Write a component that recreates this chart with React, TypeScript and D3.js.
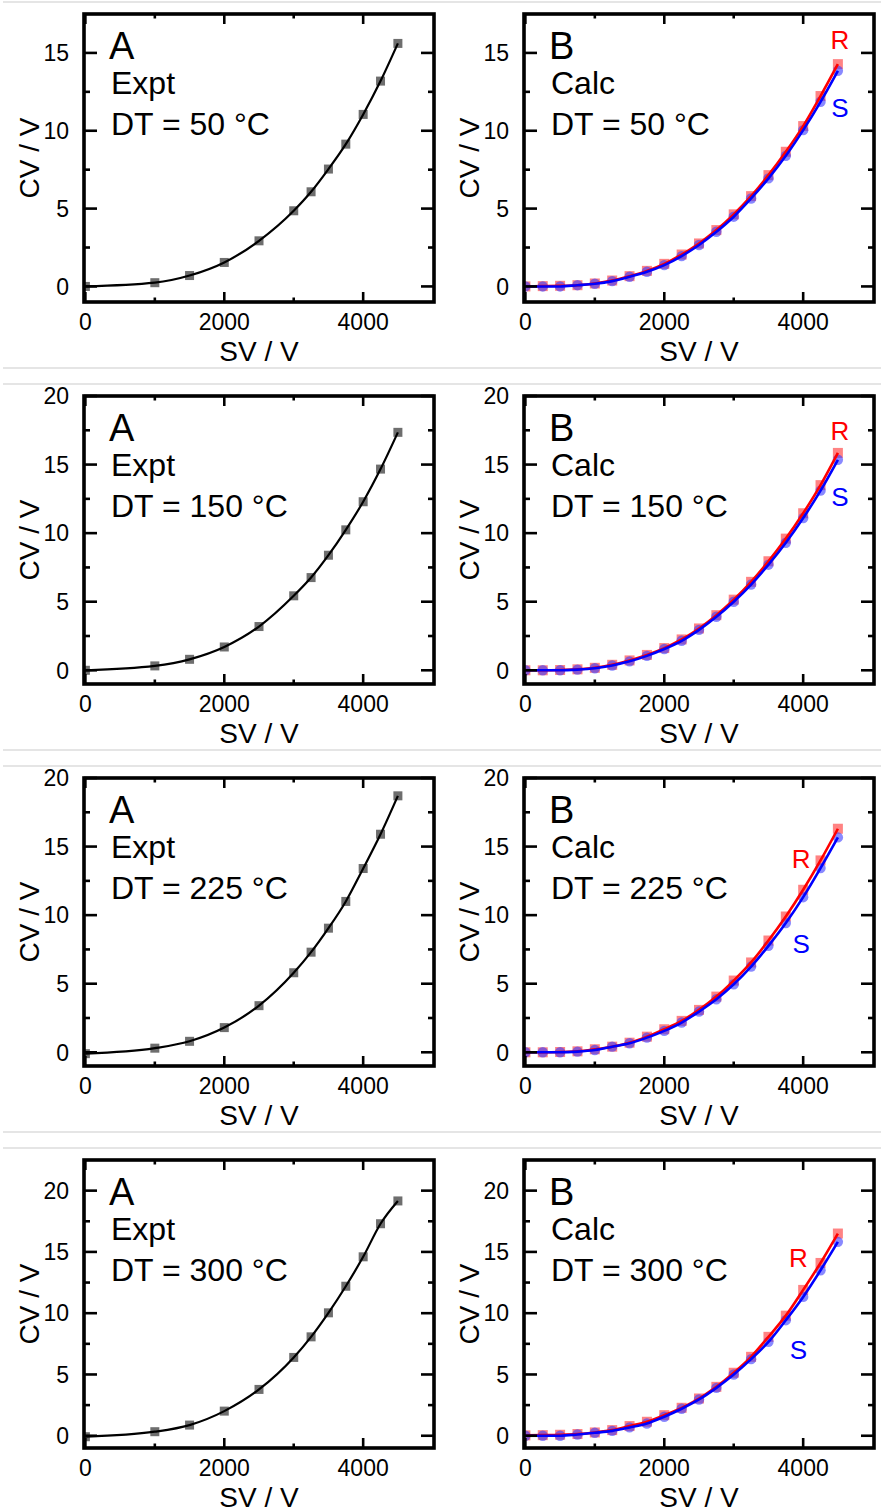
import * as d3 from 'd3';

// SV steps (V)
const SV_EXPT = [0, 1000, 1500, 2000, 2500, 3000, 3250, 3500, 3750, 4000, 4250, 4500];
const SV_CALC = [0, 250, 500, 750, 1000, 1250, 1500, 1750, 2000, 2250, 2500, 2750, 3000, 3250, 3500, 3750, 4000, 4250, 4500];

const DT = [50, 150, 225, 300];
const Y_TOP = [17.5, 20, 20, 22.5];

// experimental CV (V)
const EXPT_50 = [0, 0.24, 0.7, 1.54, 2.93, 4.86, 6.08, 7.54, 9.14, 11.05, 13.19, 15.61];
const EXPT_150 = [0, 0.32, 0.8, 1.7, 3.19, 5.43, 6.76, 8.39, 10.24, 12.29, 14.67, 17.35];
const EXPT_225 = [-0.1, 0.3, 0.8, 1.8, 3.4, 5.8, 7.3, 9.05, 11.0, 13.4, 15.9, 18.7];
const EXPT_300 = [-0.08, 0.33, 0.87, 2.01, 3.78, 6.39, 8.07, 10.03, 12.2, 14.6, 17.3, 19.16];

// calculated CV, R and S enantiomers
const R_50 = [0, 0.02, 0.04, 0.08, 0.19, 0.38, 0.66, 1.0, 1.45, 2.05, 2.76, 3.62, 4.63, 5.8, 7.15, 8.65, 10.3, 12.23, 14.28];
const S_50 = [0, 0, 0, 0.08, 0.17, 0.34, 0.62, 0.94, 1.37, 1.95, 2.66, 3.51, 4.48, 5.65, 6.94, 8.39, 10.04, 11.86, 13.85];
const R_150 = [0, 0, 0.02, 0.07, 0.18, 0.4, 0.72, 1.12, 1.62, 2.25, 3.05, 4.02, 5.15, 6.45, 7.95, 9.6, 11.45, 13.5, 15.85];
const S_150 = [0, 0, 0, 0.05, 0.15, 0.35, 0.65, 1.05, 1.55, 2.15, 2.95, 3.9, 5.0, 6.25, 7.7, 9.3, 11.1, 13.1, 15.35];
const R_225 = [0, 0, 0.02, 0.07, 0.22, 0.41, 0.7, 1.14, 1.68, 2.29, 3.09, 4.06, 5.23, 6.55, 8.15, 9.9, 11.85, 13.99, 16.3];
const S_225 = [0, 0, 0, 0.05, 0.17, 0.41, 0.66, 1.07, 1.56, 2.17, 2.97, 3.87, 4.96, 6.25, 7.76, 9.42, 11.31, 13.43, 15.67];
const R_300 = [0.03, 0.05, 0.08, 0.14, 0.27, 0.46, 0.79, 1.14, 1.68, 2.28, 3.04, 3.99, 5.14, 6.44, 8.07, 9.8, 11.9, 14.1, 16.5];
const S_300 = [0, 0, 0, 0.1, 0.24, 0.4, 0.68, 1.0, 1.55, 2.2, 2.96, 3.91, 5.0, 6.25, 7.66, 9.43, 11.33, 13.5, 15.82];

const EXPT = [EXPT_50, EXPT_150, EXPT_225, EXPT_300];
const CALC_R = [R_50, R_150, R_225, R_300];
const CALC_S = [S_50, S_150, S_225, S_300];

// where the R / S labels sit, in data units [SV, CV]
const R_LABEL = [[4530, 15.25], [4530, 16.8], [3970, 13.44], [3930, 13.76]];
const S_LABEL = [[4530, 10.9], [4530, 12.0], [3970, 7.24], [3930, 6.26]];

const W = 881,
  H = 1512,
  rowH = 382,
  firstRow = 2,
  plotW = 350,
  plotH = 288,
  plotTop = 12,
  leftA = 84,
  leftB = 524;

const font = "'Liberation Sans', Arial, sans-serif";

function Panel({ row, left, calc }) {
  const top = firstRow + row * rowH + plotTop;
  const yTop = Y_TOP[row];
  const x = d3.scaleLinear().domain([-20, 5020]).range([left, left + plotW]);
  const y = d3.scaleLinear().domain([-1, yTop]).range([top + plotH, top]);

  const xMajor = [0, 2000, 4000];
  const xMinor = [1000, 3000];
  const yMajor = d3.range(0, yTop + 0.01, 5);
  const yMinor = d3.range(2.5, yTop, 5).filter((v) => y(v) > top + 2);

  const line = d3
    .line()
    .x((d) => x(d[0]))
    .y((d) => y(d[1]))
    .curve(d3.curveMonotoneX);

  const expt = SV_EXPT.map((v, i) => [v, EXPT[row][i]]);
  const rPts = SV_CALC.map((v, i) => [v, CALC_R[row][i]]);
  const sPts = SV_CALC.map((v, i) => [v, CALC_S[row][i]]);
  const clipId = `clip-${row}-${calc ? 'b' : 'a'}`;

  return (
    <g fontFamily={font}>
      <defs>
        <clipPath id={clipId}>
          <rect x={left} y={top} width={plotW} height={plotH} />
        </clipPath>
      </defs>
      <g clipPath={`url(#${clipId})`}>
        {calc ? (
          <>
            {rPts.map((d, i) => (
              <rect key={'r' + i} x={x(d[0]) - 5} y={y(d[1]) - 5} width={10} height={10} fill="#ff3030" fillOpacity={0.6} />
            ))}
            {sPts.map((d, i) => (
              <circle key={'s' + i} cx={x(d[0])} cy={y(d[1])} r={5.2} fill="#3a3aff" fillOpacity={0.6} />
            ))}
            <path d={line(rPts)} fill="none" stroke="#ff0000" strokeWidth={2.6} />
            <path d={line(sPts)} fill="none" stroke="#0000ff" strokeWidth={2.6} />
          </>
        ) : (
          <>
            {expt.map((d, i) => (
              <rect key={'e' + i} x={x(d[0]) - 4.5} y={y(d[1]) - 4.5} width={9} height={9} fill="#555" fillOpacity={0.85} />
            ))}
            <path d={line(expt)} fill="none" stroke="#000" strokeWidth={2.2} />
          </>
        )}
      </g>

      {/* ticks, all pointing inward */}
      {xMajor.map((v) => (
        <g key={'xM' + v} stroke="#000" strokeWidth={2.6}>
          <line x1={x(v)} x2={x(v)} y1={top + plotH} y2={top + plotH - 10} />
          <line x1={x(v)} x2={x(v)} y1={top} y2={top + 10} />
        </g>
      ))}
      {xMinor.map((v) => (
        <g key={'xm' + v} stroke="#000" strokeWidth={2.6}>
          <line x1={x(v)} x2={x(v)} y1={top + plotH} y2={top + plotH - 4.5} />
          <line x1={x(v)} x2={x(v)} y1={top} y2={top + 4.5} />
        </g>
      ))}
      {yMajor.map((v) => (
        <g key={'yM' + v} stroke="#000" strokeWidth={2.6}>
          <line x1={left} x2={left + 13} y1={y(v)} y2={y(v)} />
          <line x1={left + plotW} x2={left + plotW - 13} y1={y(v)} y2={y(v)} />
        </g>
      ))}
      {yMinor.map((v) => (
        <g key={'ym' + v} stroke="#000" strokeWidth={2.6}>
          <line x1={left} x2={left + 6} y1={y(v)} y2={y(v)} />
          <line x1={left + plotW} x2={left + plotW - 6} y1={y(v)} y2={y(v)} />
        </g>
      ))}

      <rect x={left} y={top} width={plotW} height={plotH} fill="none" stroke="#000" strokeWidth={3.6} />

      {xMajor.map((v) => (
        <text key={'xl' + v} x={x(v)} y={top + plotH + 28} fontSize={23} textAnchor="middle">
          {v}
        </text>
      ))}
      {yMajor.map((v) => (
        <text key={'yl' + v} x={left - 15} y={y(v)} dy="0.36em" fontSize={23} textAnchor="end">
          {v}
        </text>
      ))}

      <text x={left + plotW / 2} y={top + plotH + 59} fontSize={28} textAnchor="middle">
        SV / V
      </text>
      <text
        transform={`translate(${left - 45},${top + plotH / 2}) rotate(-90)`}
        fontSize={28}
        textAnchor="middle"
      >
        CV / V
      </text>

      <text x={left + 25} y={top + 45} fontSize={38}>
        {calc ? 'B' : 'A'}
      </text>
      <text x={left + 27} y={top + 80} fontSize={32}>
        {calc ? 'Calc' : 'Expt'}
      </text>
      <text x={left + 27} y={top + 121} fontSize={32}>
        {`DT = ${DT[row]} °C`}
      </text>

      {calc && (
        <>
          <text x={x(R_LABEL[row][0])} y={y(R_LABEL[row][1])} fontSize={26} fill="#ff0000" textAnchor="middle">
            R
          </text>
          <text x={x(S_LABEL[row][0])} y={y(S_LABEL[row][1])} fontSize={26} fill="#0000ff" textAnchor="middle">
            S
          </text>
        </>
      )}
    </g>
  );
}

export default function App() {
  const rows = d3.range(DT.length);
  return (
    <div style={{ position: 'absolute', left: 0, top: 0 }}>
      <svg width={W} height={H} style={{ display: 'block', background: '#fff' }}>
        {rows.map((r) => (
          <g key={'sep' + r} stroke="#dcdcdc" strokeWidth={1.5}>
            <line x1={3} x2={W} y1={firstRow + r * rowH} y2={firstRow + r * rowH} />
            {r < rows.length - 1 && (
              <line x1={3} x2={W} y1={firstRow + r * rowH + 366} y2={firstRow + r * rowH + 366} />
            )}
          </g>
        ))}
        {rows.map((r) => (
          <g key={'row' + r}>
            <Panel row={r} left={leftA} calc={false} />
            <Panel row={r} left={leftB} calc={true} />
          </g>
        ))}
      </svg>
    </div>
  );
}
